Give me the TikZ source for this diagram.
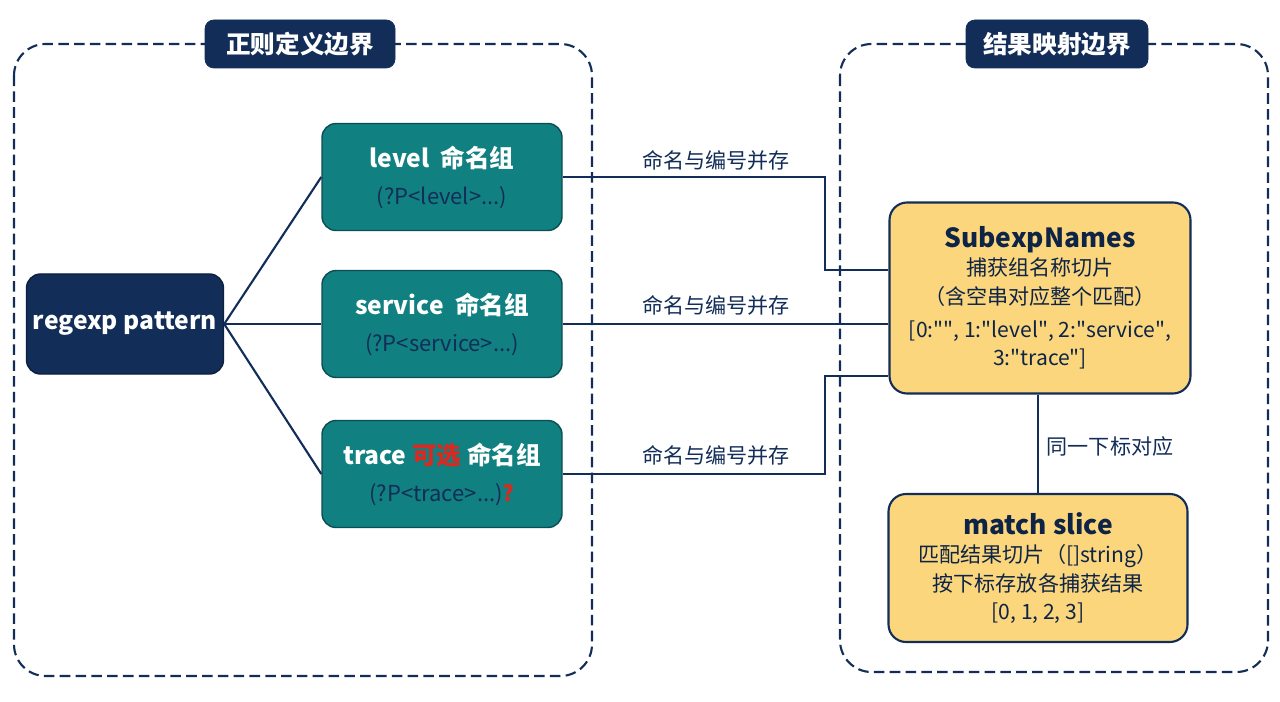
\documentclass[tikz,border=0pt]{standalone}
\usepackage{fontspec}
\setmainfont{Noto Sans CJK SC}
\usetikzlibrary{positioning,calc}
\definecolor{navy}{RGB}{18,45,88}
\definecolor{tealbox}{RGB}{16,128,128}
\definecolor{tealline}{RGB}{12,78,84}
\definecolor{sand}{RGB}{251,214,124}
\definecolor{alarm}{RGB}{220,40,30}
\newcommand{\qq}{\textquotedbl}

\tikzset{
	border/.style={navy, very thick, dash pattern=on 6pt off 3pt, rounded corners=18pt},
	header/.style={fill=navy, draw=navy, rounded corners=5pt, text=white, font=\bfseries\fontsize{14}{16}\selectfont, minimum width=190*0.02cm, minimum height=48*0.02cm},
	root/.style={fill=navy, draw=navy!70!black, thick, rounded corners=8pt, text=white, inner sep=1pt, font=\bfseries\fontsize{14}{18}\selectfont, minimum width=197*0.02cm, minimum height=100*0.02cm},
	group/.style={fill=tealbox, draw=tealline, thick, rounded corners=8pt, align=center, minimum width=240*0.02cm, minimum height=107*0.02cm, font=\fontsize{12.5}{21}\selectfont, text=navy},
	result/.style={fill=sand, draw=navy, very thick, rounded corners=10pt, align=center, inner sep=2pt, text=navy!80!black, font=\fontsize{12}{16}\selectfont},
	link/.style={navy, very thick},
	tag/.style={text=navy, font=\fontsize{12}{14}\selectfont},
}

\begin{document}
\begin{tikzpicture}[x=0.02cm, y=-0.02cm]
	\useasboundingbox (0,0) rectangle (1280,702);
	\fill[white] (0,0) rectangle (1280,702);

	% boundaries
	\draw[border] (14,44) rectangle (592,676);
	\draw[border] (840,44) rectangle (1268,672);
	\node[header] (hleft) at (300,44) {正则定义边界};
	\node[header, minimum width=182*0.02cm] (hright) at (1057,44) {结果映射边界};

	% pattern and groups
	\node[root] (pattern) at (125,324) {regexp pattern};
	\node[group] (level) at (442,177) {{\color{white}\bfseries\fontsize{14}{16}\selectfont level\ \ 命名组}\\(?P<level>...)};
	\node[group] (service) at (442,324) {{\color{white}\bfseries\fontsize{14}{16}\selectfont service\ \ 命名组}\\(?P<service>...)};
	\node[group] (trace) at (442,474) {{\color{white}\bfseries\fontsize{14}{16}\selectfont trace\ {\color{alarm}可选}\ 命名组}\\(?P<trace>...){\color{alarm}\bfseries ?}};

	% results
	\node[result, minimum width=301*0.02cm, minimum height=191*0.02cm] (names) at (1040,298)
		{{\bfseries\fontsize{15}{22}\selectfont SubexpNames}\\捕获组名称切片\\（含空串对应整个匹配）\\[3pt][0:\qq\qq, 1:\qq level\qq, 2:\qq service\qq,\\3:\qq trace\qq]};
	\node[result, minimum width=299*0.02cm, minimum height=148*0.02cm] (match) at (1038,568)
		{{\bfseries\fontsize{15}{20}\selectfont match slice}\\匹配结果切片（[]string）\\按下标存放各捕获结果\\{}[0, 1, 2, 3]};

	% connectors
	\draw[link] (pattern.east) -- (level.west);
	\draw[link] (pattern.east) -- (service.west);
	\draw[link] (pattern.east) -- (trace.west);
	\draw[link] (level.east) -- ++(262,0) |- ($(names.west)+(0,-28)$);
	\draw[link] (service.east) -- (names.west |- service.east);
	\draw[link] (trace.east) -- ++(262,0) |- ($(names.west)+(0,78)$);
	\draw[link] (names.south -| match.north) -- (match.north);

	\node[tag] (t1) at (716,160) {命名与编号并存};
	\node[tag] (t2) at (716,305) {命名与编号并存};
	\node[tag] (t3) at (716,455) {命名与编号并存};
	\node[tag] (t4) at (1110,446) {同一下标对应};
\end{tikzpicture}
\end{document}
